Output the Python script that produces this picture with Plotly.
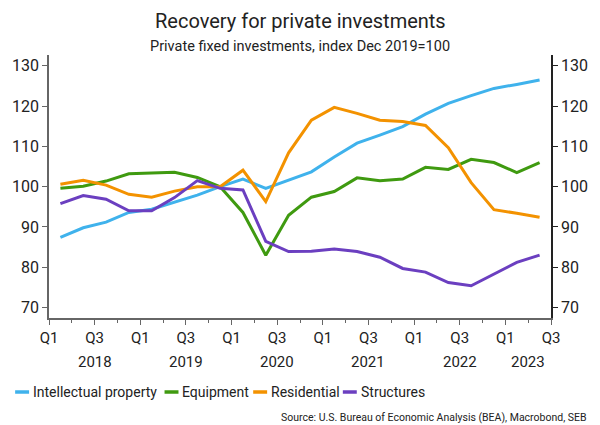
import plotly.graph_objects as go

# Quarterly observations, Q1 2018 .. Q2 2023, index Dec 2019 = 100
quarters = ["2018Q1", "2018Q2", "2018Q3", "2018Q4",
            "2019Q1", "2019Q2", "2019Q3", "2019Q4",
            "2020Q1", "2020Q2", "2020Q3", "2020Q4",
            "2021Q1", "2021Q2", "2021Q3", "2021Q4",
            "2022Q1", "2022Q2", "2022Q3", "2022Q4",
            "2023Q1", "2023Q2"]

intellectual_property = [87.4, 89.8, 91.2, 93.6, 94.4, 96.1, 97.9, 100.0,
                         101.9, 99.6, 101.7, 103.7, 107.4, 110.8, 112.8, 114.9,
                         118.0, 120.7, 122.6, 124.4, 125.4, 126.5]
equipment = [99.6, 100.1, 101.4, 103.2, 103.4, 103.6, 102.3, 100.0,
             93.6, 83.0, 92.9, 97.4, 98.8, 102.2, 101.5, 101.9,
             104.8, 104.3, 106.8, 106.0, 103.5, 106.0]
residential = [100.6, 101.6, 100.4, 98.1, 97.4, 98.9, 100.0, 100.0,
               104.1, 96.3, 108.4, 116.5, 119.7, 118.2, 116.5, 116.2,
               115.2, 109.7, 101.0, 94.3, 93.4, 92.4]
structures = [95.8, 97.8, 96.9, 94.0, 94.0, 97.3, 101.5, 99.6,
              99.2, 86.4, 83.9, 84.0, 84.5, 83.9, 82.5, 79.7,
              78.8, 76.2, 75.4, 78.3, 81.2, 83.0]

series_names = ["Intellectual property", "Equipment", "Residential", "Structures"]
series_values = [intellectual_property, equipment, residential, structures]
series_colors = ["#3FB2EC", "#3F9A10", "#F39200", "#6B3FC0"]

# x-axis labelling: quarter ticks every half year, years centred on their span
quarter_tick_pos = list(range(0, 23, 2))
quarter_tick_text = ["Q1", "Q3"] * 6
year_labels = ["2018", "2019", "2020", "2021", "2022", "2023"]
year_label_pos = [2, 6, 10, 14, 18, 21]

y_ticks = [70, 80, 90, 100, 110, 120, 130]

FONT = "Roboto"
TEXT = "#222222"

# plot-area geometry in pixels (used for placing the text around it)
PLOT_TOP, PLOT_BOTTOM, PLOT_LEFT, PLOT_RIGHT = 55, 318, 48, 552
PLOT_H = PLOT_BOTTOM - PLOT_TOP
PLOT_W = PLOT_RIGHT - PLOT_LEFT


def ydom(py):
    """pixel row -> y-domain fraction"""
    return (PLOT_BOTTOM - py) / PLOT_H


def xdom(px):
    """pixel column -> x-domain fraction"""
    return (px - PLOT_LEFT) / PLOT_W


# each quarter's value is plotted at the middle of its quarter
x_pos = [i + 0.5 for i in range(len(quarters))]

fig = go.Figure()
for name, vals, col in zip(series_names, series_values, series_colors):
    fig.add_trace(go.Scatter(x=x_pos, y=vals, name=name, mode="lines",
                             line=dict(color=col, width=3),
                             showlegend=False))
# invisible trace carrying the right-hand axis
fig.add_trace(go.Scatter(x=[x_pos[0]], y=[intellectual_property[0]], yaxis="y2",
                         mode="lines", line=dict(width=0), showlegend=False,
                         hoverinfo="skip"))

y_range = [67.4, 132.7]
fig.update_layout(
    width=600, height=425,
    margin=dict(l=PLOT_LEFT, r=600 - PLOT_RIGHT, t=PLOT_TOP, b=425 - PLOT_BOTTOM),
    paper_bgcolor="white", plot_bgcolor="white",
    font=dict(family=FONT, color=TEXT, size=15),
    xaxis=dict(range=[0, 22], tickmode="array", tickvals=quarter_tick_pos,
               ticktext=quarter_tick_text, showgrid=False, zeroline=False,
               showline=True, linecolor="#666666", linewidth=1.5,
               ticks="outside", ticklen=5, tickcolor="#666666",
               tickfont=dict(size=15),
               minor=dict(tickvals=[i for i in range(1, 23, 2)], ticks="outside",
                          ticklen=3, tickcolor="#666666")),
    yaxis=dict(range=y_range, tickmode="array", tickvals=y_ticks,
               showgrid=False, zeroline=False, showline=True,
               linecolor="#666666", linewidth=1.5, ticks="outside",
               ticklen=5, tickcolor="#666666", tickfont=dict(size=16)),
    yaxis2=dict(range=y_range, overlaying="y", side="right", tickmode="array",
                tickvals=y_ticks, showgrid=False, zeroline=False,
                showline=True, linecolor="#222222", linewidth=1.5,
                ticks="outside", ticklen=5, tickcolor="#222222",
                tickfont=dict(size=16)),
)

# title and subtitle
fig.add_annotation(text="Recovery for private investments",
                   xref="x domain", yref="y domain", x=0.5, y=ydom(21),
                   yanchor="middle", showarrow=False,
                   font=dict(size=20, color=TEXT))
fig.add_annotation(text="Private fixed investments, index Dec 2019=100",
                   xref="x domain", yref="y domain", x=0.5, y=ydom(46.5),
                   yanchor="middle", showarrow=False,
                   font=dict(size=14.5, color=TEXT))

# year labels below the quarter labels
for yr, pos in zip(year_labels, year_label_pos):
    fig.add_annotation(text=yr, xref="x", yref="y domain", x=pos,
                       y=ydom(362), yanchor="middle", showarrow=False,
                       font=dict(size=15, color=TEXT))

# legend: short line swatch followed by the series name
legend_y = ydom(392)
legend_x = [14, 164, 253, 343]
for name, col, lx in zip(series_names, series_colors, legend_x):
    fig.add_shape(type="line", xref="x domain", yref="y domain",
                  x0=xdom(lx), x1=xdom(lx + 14), y0=legend_y, y1=legend_y,
                  line=dict(color=col, width=3.5))
    fig.add_annotation(text=name, xref="x domain", yref="y domain",
                       x=xdom(lx + 16), y=legend_y, xanchor="left",
                       yanchor="middle", showarrow=False,
                       font=dict(size=14, color=TEXT))

fig.add_annotation(text="Source: U.S. Bureau of Economic Analysis (BEA), Macrobond, SEB",
                   xref="x domain", yref="y domain", x=xdom(590),
                   y=ydom(417), xanchor="right", yanchor="middle",
                   showarrow=False, font=dict(size=10.5, color=TEXT))

fig.write_html("out.html")
